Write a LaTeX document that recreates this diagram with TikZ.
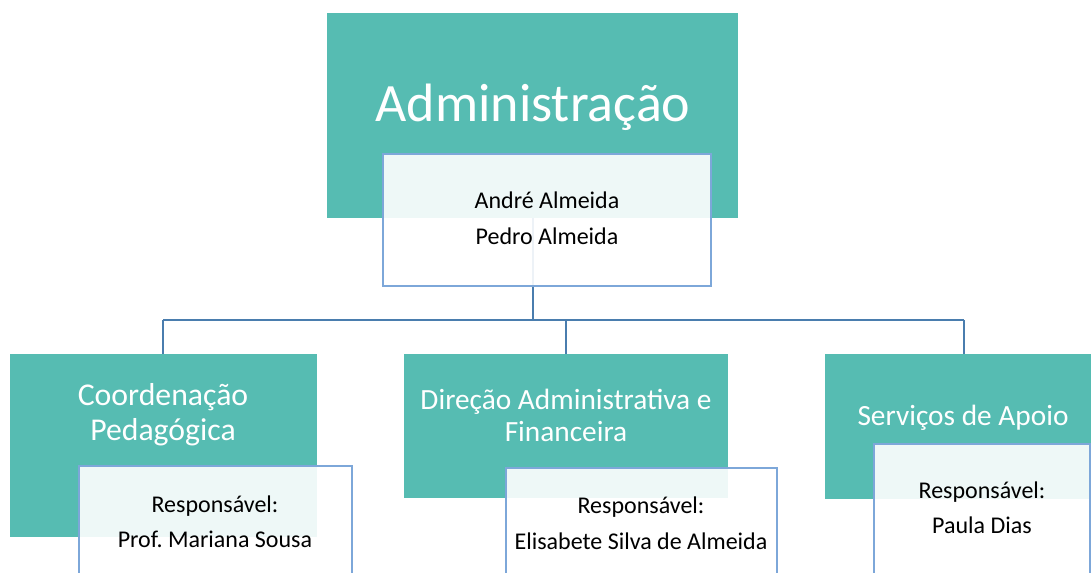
\documentclass[tikz,border=0pt]{standalone}
\usepackage{fontspec}
\setmainfont{Carlito}
\frenchspacing
\definecolor{teal1}{HTML}{56BCB2}
\definecolor{bord}{HTML}{7DA7D9}
\definecolor{conn}{HTML}{4A7DAE}
\tikzset{
  x=0.75pt, y=-0.75pt,
  tealbox/.style={fill=teal1, draw=none},
  subbox/.style={fill=white, fill opacity=0.9, draw=bord, line width=1pt},
  connline/.style={draw=conn, line width=1.1pt},
  ttl/.style={text=white, anchor=base, inner sep=0pt},
  sub/.style={text=black, anchor=base, inner sep=0pt, font=\fontsize{18}{21}\selectfont},
}
\begin{document}
\begin{tikzpicture}
\useasboundingbox (0,0) rectangle (1091,573);
\clip (0,0) rectangle (1091,573);
% anchor coordinates
\coordinate (rootc) at (533,218);
\coordinate (bus) at (533,320);
\coordinate (busL) at (163,320);
\coordinate (busM) at (566,320);
\coordinate (busR) at (964,320);
\coordinate (cL) at (163,354);
\coordinate (cM) at (566,354);
\coordinate (cR) at (964,354);
% connectors
\draw[connline] (rootc) -- (bus);
\draw[connline] (busL) -- (busR);
\draw[connline] (busL) -- (cL);
\draw[connline] (busM) -- (cM);
\draw[connline] (busR) -- (cR);
% teal boxes
\path[tealbox] (327,13) rectangle (738,218);
\path[tealbox] (10,354) rectangle (317,537);
\path[tealbox] (404,354) rectangle (728,498);
\path[tealbox] (825,354) rectangle (1091,499);
% sub boxes
\path[subbox] (383,154) rectangle (711,286);
\path[subbox] (79,466) rectangle (352,600);
\path[subbox] (506,468) rectangle (777,600);
\path[subbox] (874,444) rectangle (1090,600);
% texts
\node[ttl, font=\fontsize{40.5}{48}\selectfont] (root) at (533,122) {Administração};
\node[sub] (ra) at (547,209) {André Almeida};
\node[sub] (rb) at (547,245) {Pedro Almeida};
\node[ttl, font=\fontsize{23.8}{28}\selectfont] (la) at (163,405) {Coordenação};
\node[ttl, font=\fontsize{23.8}{28}\selectfont] (lb) at (163,440) {Pedagógica};
\node[sub] (lc) at (215,512) {Responsável:};
\node[sub] (ld) at (215,547) {Prof.\ Mariana Sousa};
\node[ttl, font=\fontsize{22}{26}\selectfont] (ma) at (566,409) {Direção Administrativa e};
\node[ttl, font=\fontsize{22}{26}\selectfont] (mb) at (566,441) {Financeira};
\node[sub] (mc) at (641,513) {Responsável:};
\node[sub] (md) at (641,549) {Elisabete Silva de Almeida};
\node[ttl, font=\fontsize{22}{26}\selectfont] (sa) at (963,425) {Serviços de Apoio};
\node[sub] (sc) at (982,498) {Responsável:};
\node[sub] (sd) at (982,533) {Paula Dias};
\end{tikzpicture}
\end{document}
